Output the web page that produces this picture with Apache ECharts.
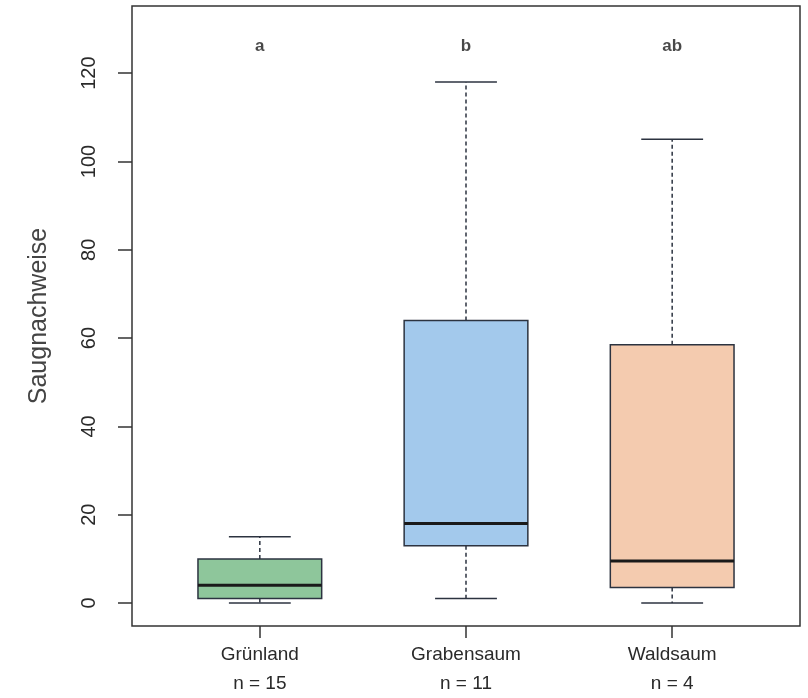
<!DOCTYPE html>
<html>
<head>
<meta charset="utf-8">
<script src="https://cdn.jsdelivr.net/npm/echarts@6/dist/echarts.min.js"></script>
<style>
  html, body { margin: 0; padding: 0; background: #fff; }
  #chart { width: 808px; height: 698px; }
</style>
</head>
<body>
<div id="chart"></div>
<script>
// Gruppen und Stichprobengroessen
var categories = ['Grünland', 'Grabensaum', 'Waldsaum'];
var nLabels = ['n = 15', 'n = 11', 'n = 4'];
// Boxplot-Kennwerte: [min, q1, median, q3, max]
var whiskerLow = [0, 1, 0];
var q1Values = [1, 13, 3.5];
var medianValues = [4, 18, 9.5];
var q3Values = [10, 64, 58.5];
var whiskerHigh = [15, 118, 105];
// Ausreisser: [gruppe, wert]
var outliers = [[1, 32]];
// Signifikanzbuchstaben
var letters = ['a', 'b', 'ab'];
var letterLevel = 126;
var yTicks = [0, 20, 40, 60, 80, 100, 120];
var xTicks = [1, 2, 3];

var boxColors = ['#8ec69b', '#a3c9ec', '#f4cbaf'];
var edgeColor = '#2c3340';

var boxData = categories.map(function (c, i) {
  return [i + 1, whiskerLow[i], q1Values[i], medianValues[i], q3Values[i], whiskerHigh[i]];
});

function renderBox(params, api) {
  var x = api.value(0);
  var lo = api.value(1), q1 = api.value(2), med = api.value(3), q3 = api.value(4), hi = api.value(5);
  var halfW = 0.3, capW = 0.15;
  var tl = api.coord([x - halfW, q3]);
  var br = api.coord([x + halfW, q1]);
  var mL = api.coord([x - halfW, med]);
  var mR = api.coord([x + halfW, med]);
  var c = api.coord([x, 0])[0];
  var yLo = api.coord([x, lo])[1];
  var yHi = api.coord([x, hi])[1];
  var capL = api.coord([x - capW, 0])[0];
  var capR = api.coord([x + capW, 0])[0];
  var dashStyle = { stroke: edgeColor, lineWidth: 1.5, lineDash: [4, 3] };
  var solid = { stroke: edgeColor, lineWidth: 1.5 };
  return {
    type: 'group',
    children: [
      { type: 'line', shape: { x1: c, y1: tl[1], x2: c, y2: yHi }, style: dashStyle },
      { type: 'line', shape: { x1: c, y1: br[1], x2: c, y2: yLo }, style: dashStyle },
      { type: 'line', shape: { x1: capL, y1: yHi, x2: capR, y2: yHi }, style: solid },
      { type: 'line', shape: { x1: capL, y1: yLo, x2: capR, y2: yLo }, style: solid },
      {
        type: 'rect',
        shape: { x: tl[0], y: tl[1], width: br[0] - tl[0], height: br[1] - tl[1] },
        style: { fill: boxColors[params.dataIndex], stroke: edgeColor, lineWidth: 1.5 }
      },
      { type: 'line', shape: { x1: mL[0], y1: mL[1], x2: mR[0], y2: mR[1] }, style: { stroke: '#1a1a1a', lineWidth: 3 } }
    ]
  };
}

var chart = echarts.init(document.getElementById('chart'));
var option = {
  animation: false,
  grid: {
    left: 132,
    right: 8,
    top: 6,
    bottom: 68,
    show: true,
    borderColor: '#333',
    borderWidth: 1.5,
    backgroundColor: 'transparent'
  },
  xAxis: {
    type: 'value',
    min: 0.38,
    max: 3.62,
    splitLine: { show: false },
    axisLine: { show: false, onZero: false },
    axisTick: {
      show: true,
      length: 12,
      customValues: xTicks,
      lineStyle: { color: '#333', width: 1.5 }
    },
    axisLabel: {
      show: true,
      customValues: xTicks,
      margin: 14,
      color: '#2a2a2a',
      fontSize: 19,
      fontFamily: 'Liberation Sans, Arial, sans-serif',
      lineHeight: 29,
      formatter: function (v) {
        var i = Math.round(v) - 1;
        return categories[i] + '\n' + nLabels[i];
      }
    }
  },
  yAxis: {
    type: 'value',
    min: -5.2,
    max: 135.2,
    name: 'Saugnachweise',
    nameLocation: 'middle',
    nameGap: 80,
    nameTextStyle: {
      color: '#444',
      fontSize: 25,
      fontFamily: 'Liberation Sans, Arial, sans-serif'
    },
    splitLine: { show: false },
    axisLine: { show: false },
    axisTick: {
      show: true,
      length: 14,
      customValues: yTicks,
      lineStyle: { color: '#333', width: 1.5 }
    },
    axisLabel: {
      show: true,
      customValues: yTicks,
      rotate: 90,
      margin: 33,
      color: '#2a2a2a',
      fontSize: 20,
      fontFamily: 'Liberation Sans, Arial, sans-serif'
    }
  },
  series: [
    {
      type: 'custom',
      renderItem: renderBox,
      encode: { x: 0, y: [1, 2, 3, 4, 5] },
      data: boxData,
      z: 2
    },
    {
      type: 'scatter',
      data: outliers,
      symbol: 'emptyCircle',
      symbolSize: 9,
      itemStyle: { color: '#fff', borderColor: '#333', borderWidth: 1.3 },
      z: 3
    },
    {
      type: 'scatter',
      data: letters.map(function (l, i) { return [i + 1, letterLevel]; }),
      symbolSize: 0,
      label: {
        show: true,
        position: 'inside',
        color: '#1a1a1a',
        fontSize: 17,
        fontWeight: 'bold',
        fontFamily: 'Liberation Sans, Arial, sans-serif',
        formatter: function (p) { return letters[p.dataIndex]; }
      },
      z: 3
    }
  ]
};
chart.setOption(option);
</script>
</body>
</html>
